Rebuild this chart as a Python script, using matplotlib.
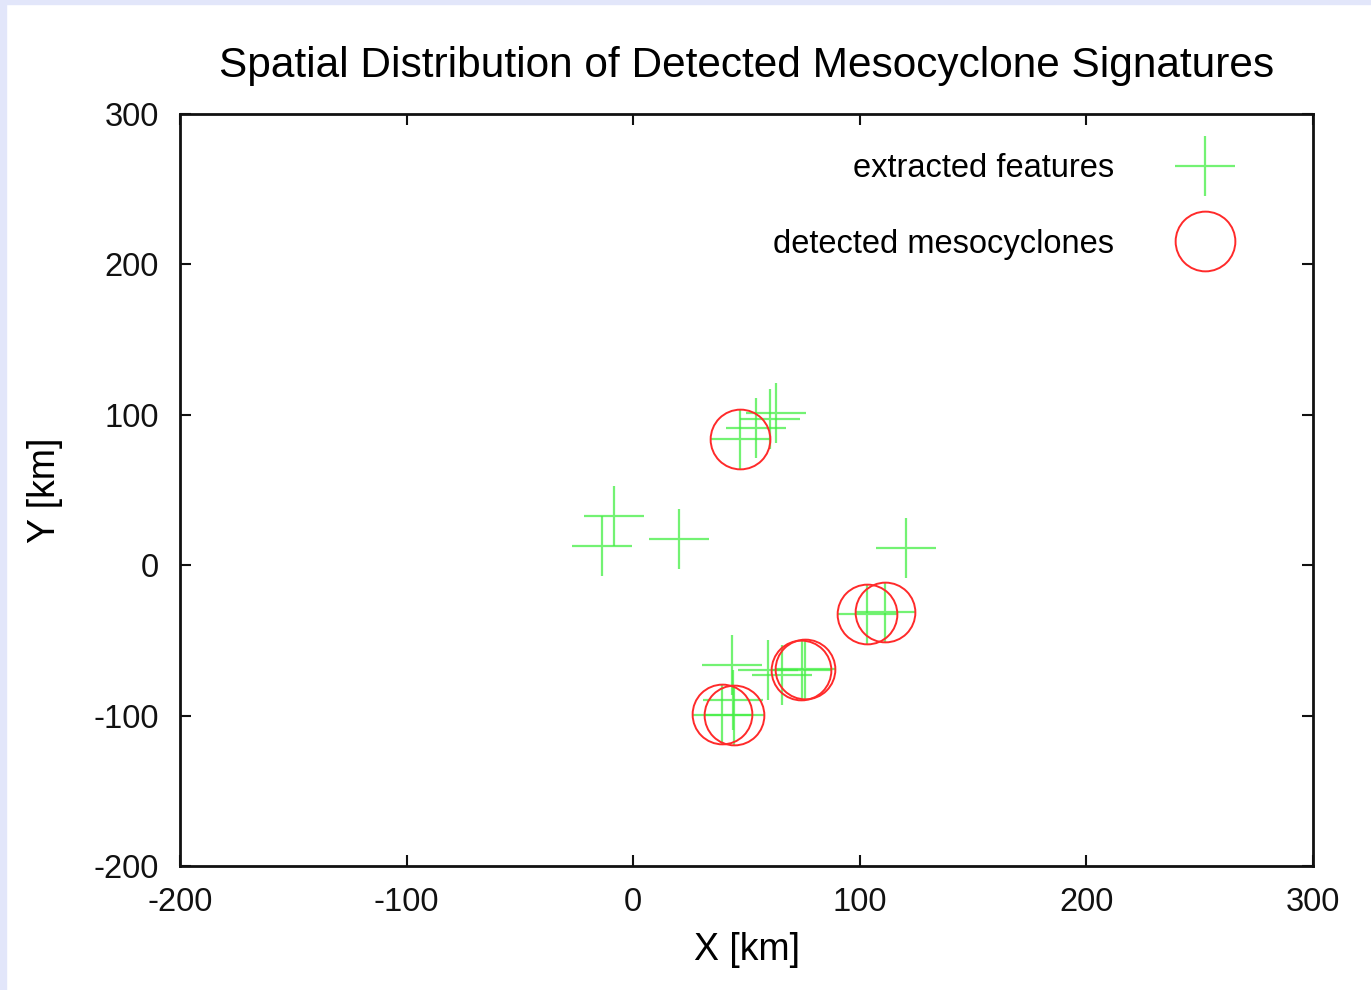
import matplotlib
matplotlib.use("Agg")
import matplotlib.pyplot as plt

# extracted features (X, Y in km)
feat_x = [-8.4, -13.8, 20.0, 47.2, 54.3, 60.3, 63.1, 120.3, 103.3, 111.2,
          74.4, 75.9, 65.6, 59.7, 43.7, 39.1, 44.3, 44.1]
feat_y = [32.6, 12.6, 17.7, 83.8, 91.5, 97.5, 101.5, 11.5, -32.6, -31.0,
          -69.8, -68.7, -73.1, -69.8, -66.5, -99.7, -99.7, -89.8]

# detected mesocyclones (X, Y in km)
meso_x = [47.2, 103.3, 111.2, 74.0, 75.9, 39.1, 44.3]
meso_y = [83.8, -32.6, -31.0, -69.8, -68.7, -99.0, -99.7]

xticks = [-200, -100, 0, 100, 200, 300]
yticks = [-200, -100, 0, 100, 200, 300]

plt.rcParams['font.family'] = ['Liberation Sans', 'DejaVu Sans']

fig = plt.figure(figsize=(13.71, 9.90), dpi=100)
fig.patch.set_facecolor('white')
# lavender frame on the left and top
fig.add_artist(plt.Rectangle((0, 0), 6/1371, 1, transform=fig.transFigure,
                             color='#e2e6fa', zorder=0))
fig.add_artist(plt.Rectangle((0, 1 - 4/990), 1, 4/990, transform=fig.transFigure,
                             color='#e2e6fa', zorder=0))

ax = fig.add_axes([180/1371, 1 - 866/990, (1313-180)/1371, (866-114)/990])

ax.plot(feat_x, feat_y, linestyle='none', marker='+', markersize=43,
        markeredgewidth=1.6, color='#44ee44', alpha=0.75, label='extracted features')
ax.plot(meso_x, meso_y, linestyle='none', marker='o', markersize=43,
        markeredgewidth=1.4, markerfacecolor='none', markeredgecolor='#ff2a2a',
        label='detected mesocyclones')

ax.set_xlim(-200, 300)
ax.set_ylim(-200, 300)
ax.set_xticks(xticks)
ax.set_yticks(yticks)
ax.set_xticklabels([str(v) for v in xticks])
ax.set_yticklabels([str(v) for v in yticks])
ax.tick_params(direction='in', length=8, width=1.5, top=True, right=True,
               labelsize=23.5, pad=15, colors='#111111')
for s in ax.spines.values():
    s.set_linewidth(2)
    s.set_color('#111111')

ax.set_title('Spatial Distribution of Detected Mesocyclone Signatures',
             fontsize=30.5, pad=27)
ax.set_xlabel('X [km]', fontsize=27, labelpad=10)
ax.set_ylabel('Y [km]', fontsize=27, labelpad=22)

leg = ax.legend(loc='upper right', bbox_to_anchor=(0.948, 0.965), borderaxespad=0,
                frameon=False, markerfirst=False,
                fontsize=23.5, handlelength=2.2, labelspacing=1.36,
                handletextpad=1.7)

fig.savefig('out.png', dpi=100)
